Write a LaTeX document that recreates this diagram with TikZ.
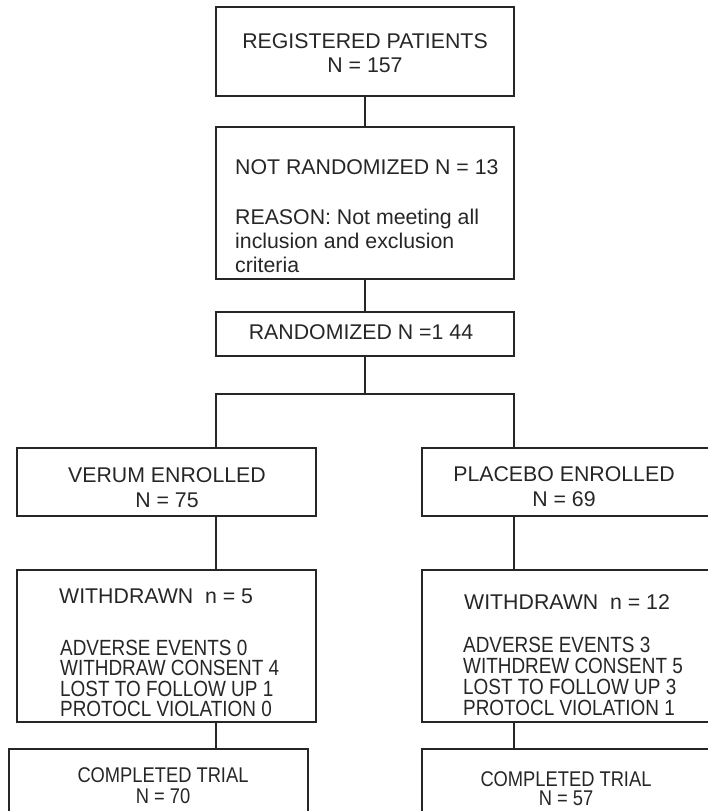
\documentclass[tikz,border=0pt]{standalone}
\usepackage{fontspec}
\setmainfont{Liberation Sans}
\newfontfamily\narrowfont{Liberation Sans}[FakeStretch=0.86]
\definecolor{ink}{HTML}{262626}

\begin{document}
\begin{tikzpicture}[x=1pt,y=-1pt]

\tikzset{box/.style = {draw=ink,line width=1.8pt,inner sep=0pt,outer sep=0pt,anchor=north west}}
\tikzset{edge/.style = {draw=ink,line width=1.8pt}}
\tikzset{txt/.style = {text=ink,inner sep=0pt,anchor=north,align=center,font=\fontsize{21.3}{24}\selectfont}}
\tikzset{list/.style = {text=ink,inner sep=0pt,anchor=north west,align=left,font=\narrowfont\fontsize{22}{20.4}\selectfont}}
\useasboundingbox (0,0) rectangle (708,811);
% boxes
\node[box,minimum width=298,minimum height=89]  (reg)      at (216,7)   {};
\node[box,minimum width=298,minimum height=152] (notrand)  at (216,127) {};
\node[box,minimum width=298,minimum height=44]  (rand)     at (216,312) {};
\node[box,minimum width=299,minimum height=68]  (verum)    at (17,448)  {};
\node[box,minimum width=310,minimum height=68]  (placebo)  at (422,448) {};
\node[box,minimum width=299,minimum height=152] (wverum)   at (17,570)  {};
\node[box,minimum width=310,minimum height=152] (wplacebo) at (422,570) {};
\node[box,minimum width=299,minimum height=90]  (cverum)   at (9,749)   {};
\node[box,minimum width=310,minimum height=90]  (cplacebo) at (422,749) {};
% texts
\node[txt] (regtxt) at (365,33.7) {REGISTERED PATIENTS\\N = 157};
\node[txt,anchor=north west,align=left] (notrandtxt) at (235,159.7)
  {NOT RANDOMIZED N = 13\\[26pt]REASON: Not meeting all\\inclusion and exclusion\\criteria};
\node[txt] (randtxt) at (361,324.7) {RANDOMIZED N =1 44};
\node[txt,font=\fontsize{21.3}{25}\selectfont] (verumtxt)   at (167,467.7) {VERUM ENROLLED\\N = 75};
\node[txt,font=\fontsize{21.3}{25}\selectfont] (placebotxt) at (564,466.7) {PLACEBO ENROLLED\\N = 69};
\node[txt,anchor=north west] (wverumtitle)   at (59,588.7)  {WITHDRAWN\ \ n = 5};
\node[txt,anchor=north west] (wplacebotitle) at (464,594.7) {WITHDRAWN\ \ n = 12};
\node[list] (wverumlist) at (60,640)
  {ADVERSE EVENTS 0\\WITHDRAW CONSENT 4\\LOST TO FOLLOW UP 1\\PROTOCL VIOLATION 0};
\node[list,font=\narrowfont\fontsize{22}{21}\selectfont] (wplacebolist) at (463,637)
  {ADVERSE EVENTS 3\\WITHDREW CONSENT 5\\LOST TO FOLLOW UP 3\\PROTOCL VIOLATION 1};
\node[list,anchor=north,align=center,font=\narrowfont\fontsize{21.3}{21}\selectfont] (cverumtxt)
  at (163,767) {COMPLETED TRIAL\\N = 70};
\node[list,anchor=north,align=center,font=\narrowfont\fontsize{21.3}{19.5}\selectfont] (cplacebotxt)
  at (566,771) {COMPLETED TRIAL\\N = 57};
%edges
\coordinate (split) at (365,394);
\draw[edge] (reg.south) to (notrand.north);
\draw[edge] (notrand.south) to (rand.north);
\draw[edge] (rand.south) to (split);
\draw[edge] (split) -| (rand.west |- verum.north);
\draw[edge] (split) -| (rand.east |- placebo.north);
\draw[edge] (verum.south -| rand.west) to (wverum.north -| rand.west);
\draw[edge] (wverum.south -| rand.west) to (cverum.north -| rand.west);
\draw[edge] (placebo.south -| rand.east) to (wplacebo.north -| rand.east);
\draw[edge] (wplacebo.south -| rand.east) to (cplacebo.north -| rand.east);
\end{tikzpicture}
\end{document}
